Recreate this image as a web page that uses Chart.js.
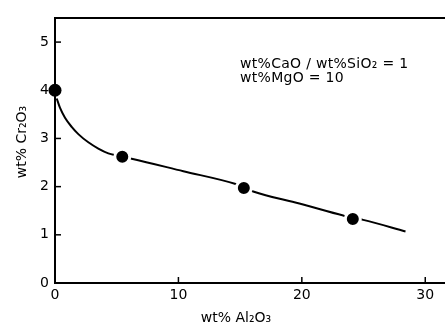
<!DOCTYPE html>
<html><head><meta charset="utf-8">
<script src="https://cdn.jsdelivr.net/npm/chart.js@4/dist/chart.umd.min.js"></script>
<style>html,body{margin:0;padding:0;background:#fff}#wrap{width:445px;height:327px}</style>
</head><body><div id="wrap"><canvas id="c" width="445" height="327"></canvas></div>
<script>
// Measured points (wt% Al2O3, wt% Cr2O3)
const pointsX = [0, 5.45, 15.3, 24.13];
const pointsY = [4.0, 2.62, 1.97, 1.33];
// Fitted curve as drawn in the figure
const curveX = [0.14, 0.40, 0.81, 1.35, 1.89, 2.70, 3.51, 4.32, 5.0, 5.45, 6.21, 10.4, 14.57, 15.3, 16.06, 19.8, 23.35, 24.13, 24.97, 28.4];
const curveY = [3.83, 3.64, 3.43, 3.24, 3.09, 2.92, 2.79, 2.69, 2.645, 2.62, 2.58, 2.32, 2.06, 1.99, 1.90, 1.65, 1.40, 1.35, 1.31, 1.07];
const xTicks = [0, 10, 20, 30];
const yTicks = [0, 1, 2, 3, 4, 5];
const xTitle = 'wt% Al₂O₃';
const yTitle = 'wt% Cr₂O₃';
const noteLines = ['wt%CaO / wt%SiO₂ = 1', 'wt%MgO = 10'];

const FONT = '"DejaVu Sans", sans-serif';

const deco = {
  id: 'deco',
  afterDraw(chart) {
    const ctx = chart.ctx, a = chart.chartArea;
    const xs = chart.scales.x, ys = chart.scales.y;
    ctx.save();
    ctx.strokeStyle = '#000';
    ctx.lineWidth = 2;
    // top frame line
    ctx.beginPath(); ctx.moveTo(a.left - 1, a.top); ctx.lineTo(chart.width, a.top); ctx.stroke();
    // inward ticks
    ctx.lineWidth = 1.5;
    yTicks.forEach(v => { const p = ys.getPixelForValue(v); if (v === 0) return;
      ctx.beginPath(); ctx.moveTo(a.left, p); ctx.lineTo(a.left + 6, p); ctx.stroke(); });
    xTicks.forEach(v => { const p = xs.getPixelForValue(v); if (v === 0) return;
      ctx.beginPath(); ctx.moveTo(p, a.bottom); ctx.lineTo(p, a.bottom - 6); ctx.stroke(); });
    // axis titles
    ctx.fillStyle = '#000';
    ctx.font = '14px ' + FONT;
    ctx.textAlign = 'center'; ctx.textBaseline = 'middle';
    ctx.fillText(xTitle, 236, 318);
    ctx.save(); ctx.translate(22, 142); ctx.rotate(-Math.PI / 2);
    ctx.fillText(yTitle, 0, 0); ctx.restore();
    // annotation
    ctx.font = '14px ' + FONT;
    try { ctx.letterSpacing = '0.3px'; } catch (e) {}
    ctx.textAlign = 'left'; ctx.textBaseline = 'alphabetic';
    ctx.fillText(noteLines[0], 240, 68);
    ctx.fillText(noteLines[1], 240, 82);
    ctx.restore();
  }
};

new Chart(document.getElementById('c'), {
  type: 'scatter',
  data: {
    datasets: [
      {
        data: curveX.map((x, i) => ({x, y: curveY[i]})),
        showLine: true, borderColor: '#000', borderWidth: 2, pointRadius: 0,
        cubicInterpolationMode: 'monotone', order: 2
      },
      {
        data: pointsX.map((x, i) => ({x, y: pointsY[i]})),
        showLine: false, backgroundColor: '#000',
        pointRadius: [6.5, 7.5, 7.5, 7.5],
        pointBorderWidth: [0, 3, 3, 3],
        pointBorderColor: ['#000', '#fff', '#fff', '#fff'],
        clip: false, order: 1
      }
    ]
  },
  options: {
    responsive: false, animation: false, devicePixelRatio: 1,
    layout: { autoPadding: false, padding: { top: 18, left: 0, right: 0, bottom: 0 } },
    plugins: { legend: { display: false }, tooltip: { enabled: false } },
    scales: {
      x: {
        type: 'linear', min: 0, max: 31.6,
        afterBuildTicks: s => { s.ticks = xTicks.map(v => ({value: v})); },
        afterFit: s => { s.height = 44; },
        grid: { display: false, drawTicks: false },
        border: { display: true, color: '#000', width: 2 },
        ticks: { color: '#000', font: { family: FONT, size: 14 }, padding: 4, maxRotation: 0 }
      },
      y: {
        type: 'linear', min: 0, max: 5.5,
        afterBuildTicks: s => { s.ticks = yTicks.map(v => ({value: v})); },
        afterFit: s => { s.width = 55; },
        grid: { display: false, drawTicks: false },
        border: { display: true, color: '#000', width: 2 },
        ticks: { color: '#000', font: { family: FONT, size: 14 }, padding: 6 }
      }
    }
  },
  plugins: [deco]
});
</script></body></html>
